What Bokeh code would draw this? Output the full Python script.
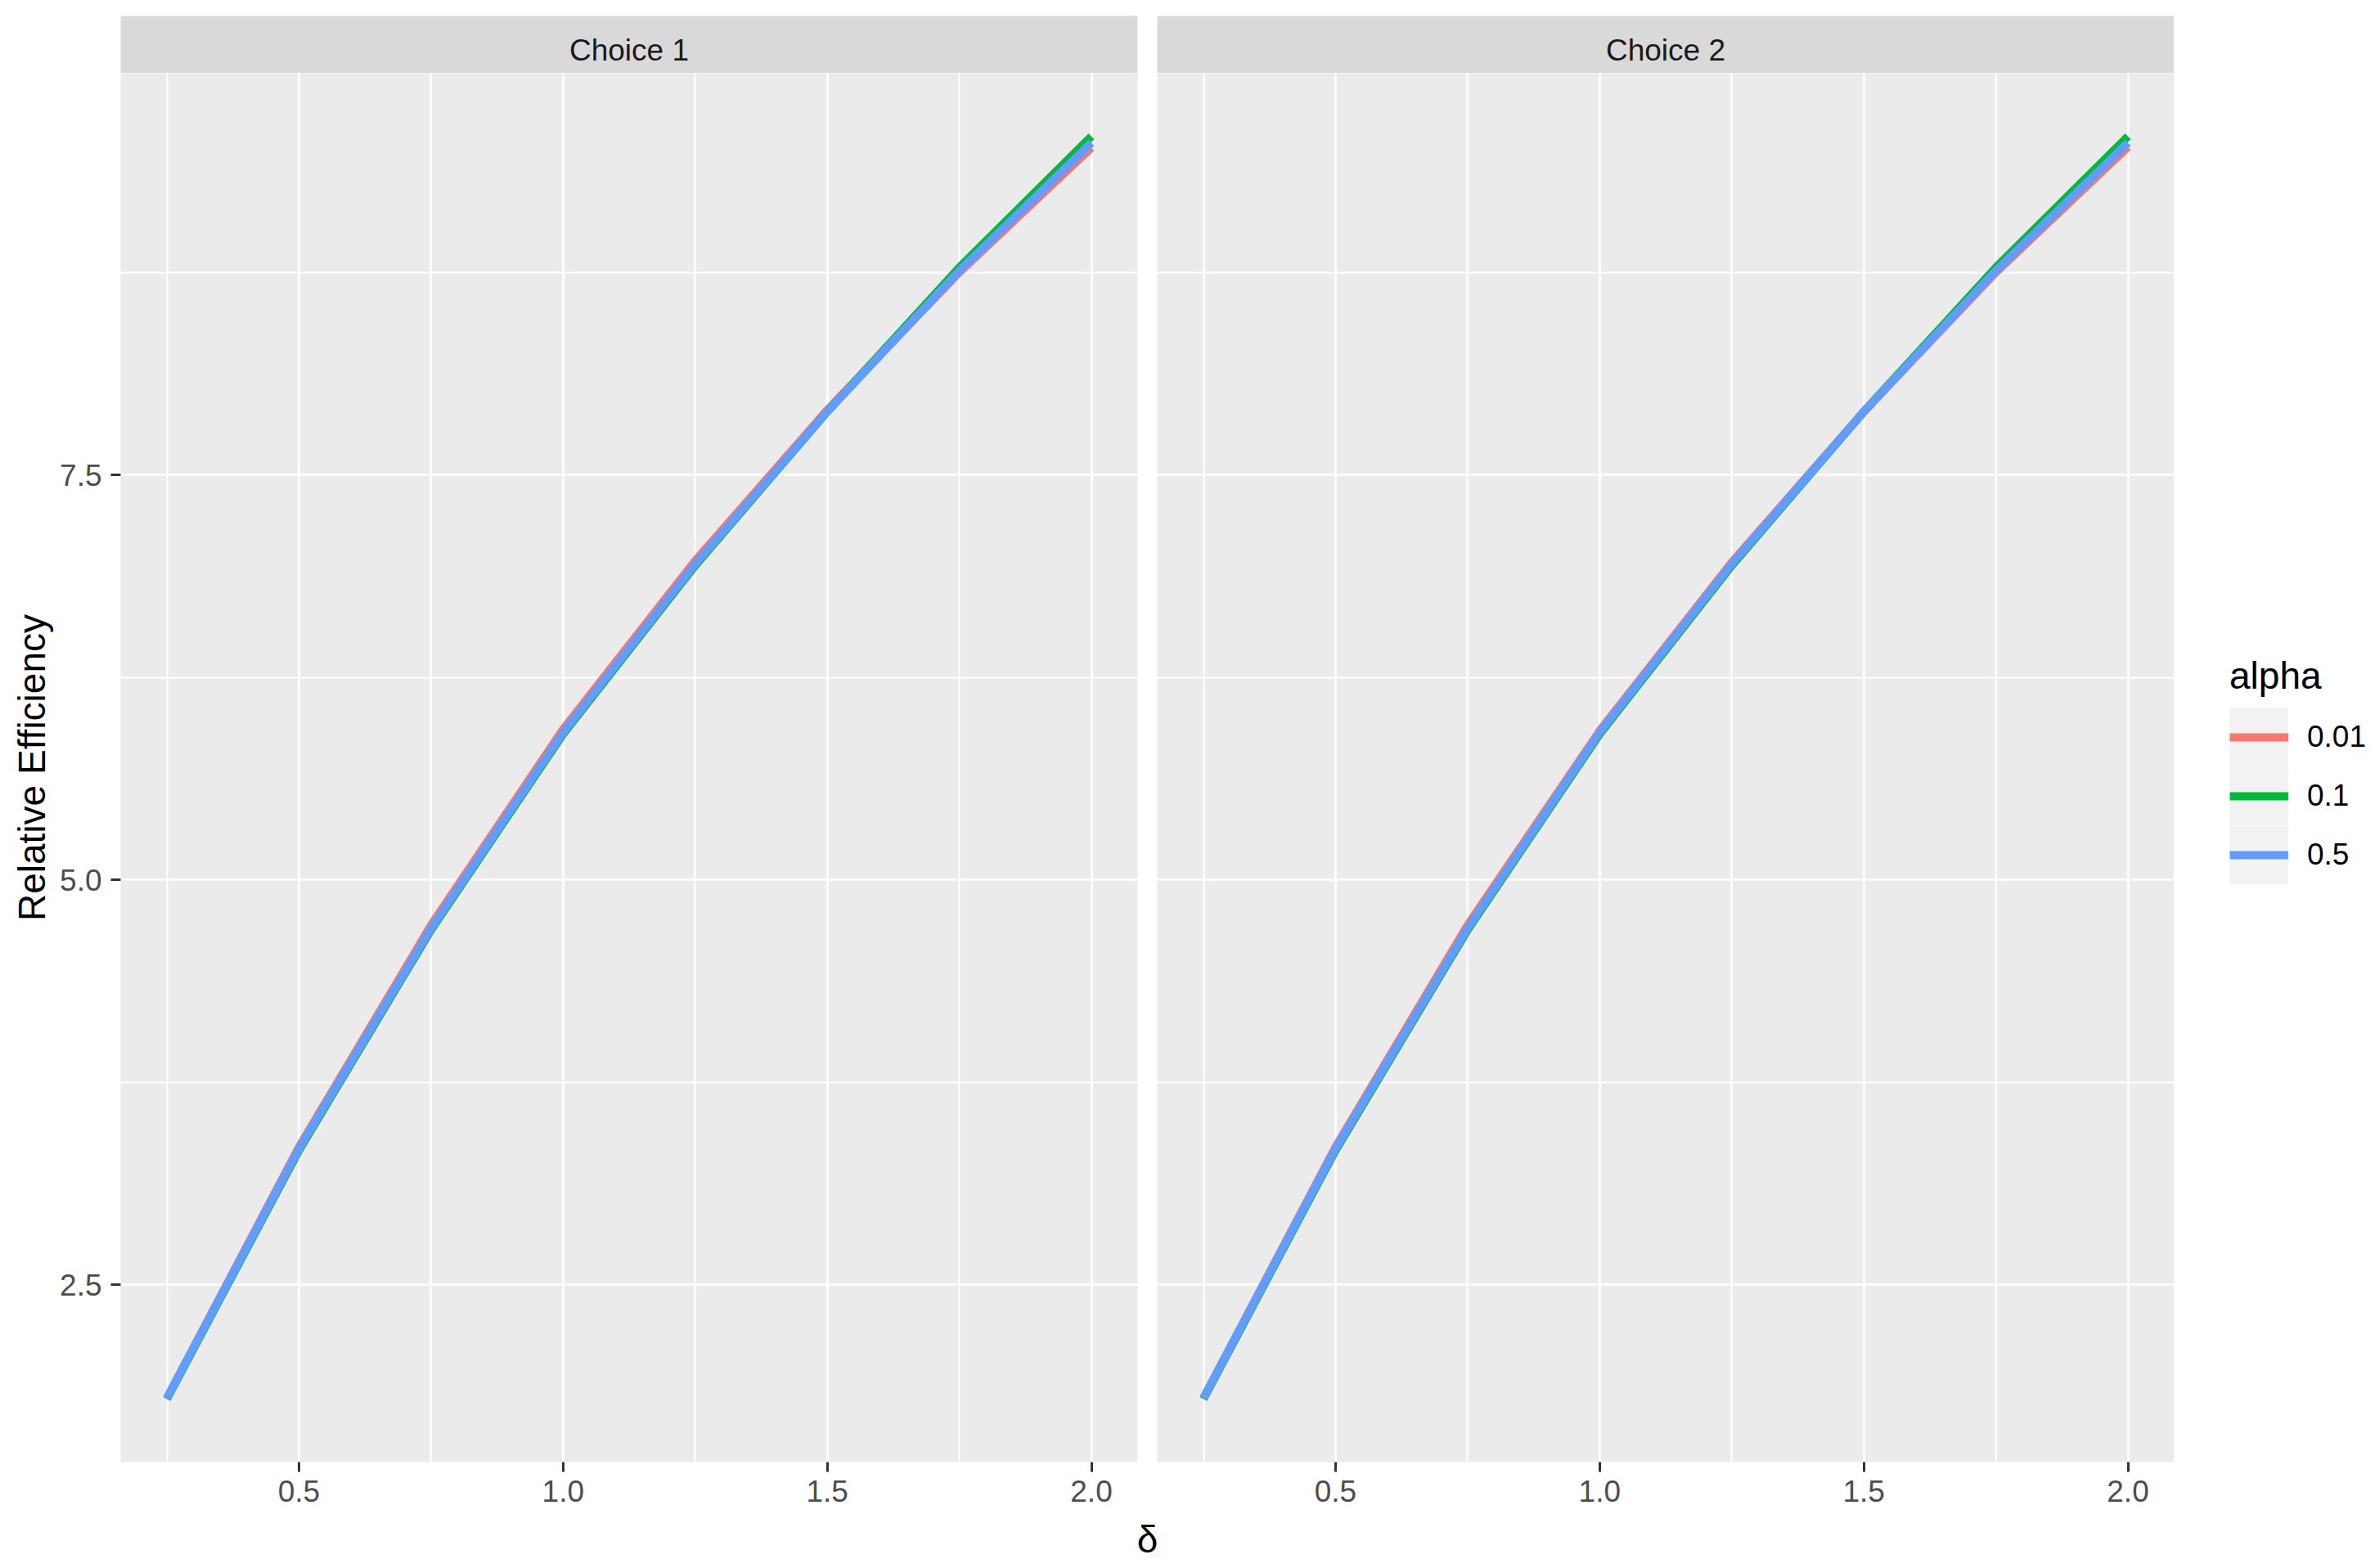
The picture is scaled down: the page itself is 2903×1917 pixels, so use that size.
from bokeh.plotting import figure
from bokeh.models import (Range1d, FixedTicker, Legend, LegendItem,
                          BasicTickFormatter, ColumnDataSource)
from bokeh.core.properties import value
from bokeh.layouts import column, row
from bokeh.embed import file_html
from bokeh.resources import INLINE

# ---------------- data ----------------
delta = [0.25, 0.5, 0.75, 1.0, 1.25, 1.5, 1.75, 2.0]
facets = ["Choice 1", "Choice 2"]
alphas = ["0.01", "0.1", "0.5"]
colors = ["#F8766D", "#00BA38", "#619CFF"]

choice1_a001 = [1.80, 3.35, 4.72, 5.93, 6.97, 7.90, 8.75, 9.52]
choice1_a01 = [1.795, 3.33, 4.69, 5.90, 6.94, 7.89, 8.78, 9.59]
choice1_a05 = [1.80, 3.34, 4.70, 5.91, 6.95, 7.89, 8.76, 9.55]

choice2_a001 = [1.80, 3.35, 4.72, 5.92, 6.96, 7.89, 8.75, 9.525]
choice2_a01 = [1.795, 3.33, 4.69, 5.90, 6.94, 7.89, 8.78, 9.59]
choice2_a05 = [1.80, 3.34, 4.70, 5.91, 6.95, 7.89, 8.76, 9.55]

x_ticks = [0.5, 1.0, 1.5, 2.0]
x_tick_labels = ["0.5", "1.0", "1.5", "2.0"]
x_minor = [0.25, 0.75, 1.25, 1.75]
y_ticks = [2.5, 5.0, 7.5]
y_tick_labels = ["2.5", "5.0", "7.5"]
y_minor = [1.25, 3.75, 6.25, 8.75]

x_title = "δ"
y_title = "Relative Efficiency"
legend_title = "alpha"

series = [
    [choice1_a001, choice1_a01, choice1_a05],
    [choice2_a001, choice2_a01, choice2_a05],
]

FONT = "Liberation Sans"

# ggplot-like 5% expansion
all_y = [v for panel in series for s in panel for v in s]
ymin, ymax = min(all_y), max(all_y)
ypad = 0.05 * (ymax - ymin)
xmin, xmax = min(delta), max(delta)
xpad = 0.05 * (xmax - xmin)

FRAME_W = 1243
FRAME_H = 1698
LEFT1 = 147
RIGHT1 = 24
FIG1_W = LEFT1 + FRAME_W + RIGHT1
FIG2_W = FRAME_W
LEG_W = 238
BOTTOM = 66
MAIN_H = FRAME_H + BOTTOM
STRIP_H = 89
STRIP_TOP = 19
XTITLE_H = 56
LINE_W = 10


def style_axes(p):
    for ax in p.axis:
        ax.axis_line_color = None
        ax.major_tick_line_color = "#333333"
        ax.major_tick_line_width = 3
        ax.major_tick_in = 0
        ax.major_tick_out = 12
        ax.minor_tick_line_color = None
        ax.major_label_text_font = FONT
        ax.major_label_text_font_size = "37px"
        ax.major_label_text_color = "#4D4D4D"
        ax.formatter = BasicTickFormatter(precision=1)


def blank(p, bg="white"):
    p.background_fill_color = bg
    p.border_fill_color = "white"
    p.outline_line_color = None
    p.xgrid.visible = False
    p.ygrid.visible = False


def make_panel(idx, width, left, right, show_y):
    p = figure(width=width, height=MAIN_H,
               x_range=Range1d(xmin - xpad, xmax + xpad),
               y_range=Range1d(ymin - ypad, ymax + ypad),
               output_backend="svg", toolbar_location=None,
               min_border_left=left, min_border_right=right,
               min_border_top=0, min_border_bottom=BOTTOM,
               y_axis_location="left" if show_y else None)
    p.background_fill_color = "#EBEBEB"
    p.border_fill_color = "white"
    p.outline_line_color = None

    p.xaxis.ticker = FixedTicker(ticks=x_ticks, minor_ticks=x_minor)
    p.xaxis.major_label_overrides = dict(zip(x_ticks, x_tick_labels))
    p.xaxis.major_label_standoff = 10
    p.xgrid.ticker = FixedTicker(ticks=x_ticks, minor_ticks=x_minor)
    p.ygrid.ticker = FixedTicker(ticks=y_ticks, minor_ticks=y_minor)
    if show_y:
        p.yaxis.ticker = FixedTicker(ticks=y_ticks, minor_ticks=y_minor)
        p.yaxis.major_label_overrides = dict(zip(y_ticks, y_tick_labels))
        p.yaxis.major_label_standoff = 11
        p.yaxis.axis_label = y_title
        p.yaxis.axis_label_text_font = FONT
        p.yaxis.axis_label_text_font_size = "46px"
        p.yaxis.axis_label_text_font_style = "normal"
        p.yaxis.axis_label_text_color = "black"
        p.yaxis.axis_label_standoff = 5
    style_axes(p)

    p.grid.grid_line_color = "white"
    p.grid.grid_line_width = 2.7
    p.grid.minor_grid_line_color = "white"
    p.grid.minor_grid_line_width = 2.2

    renderers = []
    for vals, col in zip(series[idx], colors):
        r = p.line(delta, vals, line_color=col, line_width=LINE_W, line_join="round")
        renderers.append(r)
    return p, renderers


def make_strip(text, width, left, right):
    s = figure(width=width, height=STRIP_H, x_range=Range1d(0, 1), y_range=Range1d(0, 1),
               output_backend="svg", toolbar_location=None,
               min_border_left=left, min_border_right=right,
               min_border_top=STRIP_TOP, min_border_bottom=0,
               x_axis_location=None, y_axis_location=None)
    blank(s, "#D9D9D9")
    src = ColumnDataSource(dict(x=[0.5], y=[0.40], t=[text]))
    s.text(x="x", y="y", text="t", source=src, text_align="center",
           text_baseline="middle", text_font=value(FONT),
           text_font_size="37px", text_color="#1A1A1A")
    return s


p1, r1 = make_panel(0, FIG1_W, LEFT1, RIGHT1, True)
p2, r2 = make_panel(1, FIG2_W, 0, 0, False)

# legend figure (its lines lie outside its own ranges, only the legend shows)
lg = figure(width=LEG_W, height=MAIN_H, x_range=Range1d(0, 1), y_range=Range1d(0, 1),
            output_backend="svg", toolbar_location=None,
            min_border_left=0, min_border_right=0, min_border_top=0, min_border_bottom=BOTTOM,
            x_axis_location=None, y_axis_location=None)
blank(lg)
bg = lg.line(delta, series[0][2], line_color="#F2F2F2", line_width=72)
key_lines = [lg.line(delta, vals, line_color=c, line_width=LINE_W)
             for vals, c in zip(series[0], colors)]
items = [LegendItem(label=a, renderers=[bg, r]) for a, r in zip(alphas, key_lines)]
legend = Legend(items=items, title=legend_title, location=(68, 706),
                orientation="vertical", glyph_width=72, glyph_height=72,
                spacing=0, padding=0, margin=0, label_standoff=23,
                label_text_font=FONT, label_text_font_size="37px",
                label_text_color="black",
                title_text_font=FONT, title_text_font_size="46px",
                title_text_font_style="normal", title_text_color="black",
                title_standoff=12, border_line_color=None,
                background_fill_alpha=0)
lg.add_layout(legend, "center")

# x-axis title figure, centred across both panels
xt = figure(width=LEFT1 + FRAME_W + RIGHT1 + FRAME_W, height=XTITLE_H,
            x_range=Range1d(0, 1), y_range=Range1d(0, 1),
            output_backend="svg", toolbar_location=None,
            min_border_left=LEFT1, min_border_right=0, min_border_top=0, min_border_bottom=0,
            x_axis_location=None, y_axis_location=None)
blank(xt)
xsrc = ColumnDataSource(dict(x=[0.5], y=[0.5], t=[x_title]))
xt.text(x="x", y="y", text="t", source=xsrc, text_align="center",
        text_baseline="middle", text_font=value(FONT),
        text_font_size="46px", text_color="black")

s1 = make_strip(facets[0], FIG1_W, LEFT1, RIGHT1)
s2 = make_strip(facets[1], FIG2_W, 0, 0)

layout = column(row(s1, s2), row(p1, p2, lg), xt)

open("out.html", "w").write(file_html(layout, INLINE))
